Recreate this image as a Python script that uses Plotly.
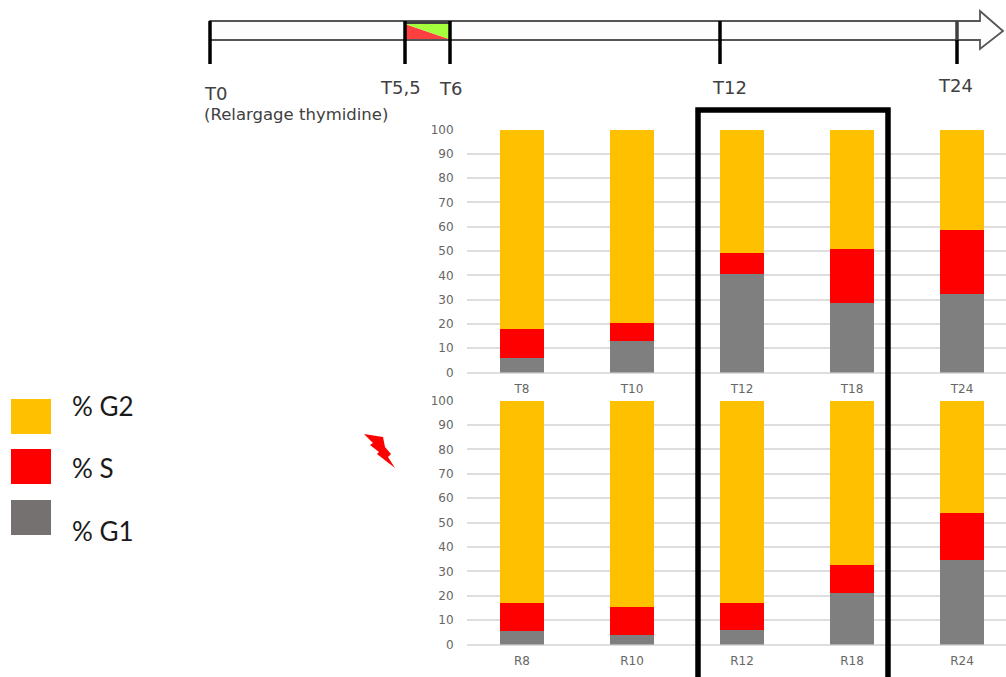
import plotly.graph_objects as go

W, H = 1006, 677

categories_top = ["T8", "T10", "T12", "T18", "T24"]
g1_top = [6, 13, 40.5, 28.5, 32.5]
s_top = [12, 7.5, 8.5, 22.5, 26]
g2_top = [82, 79.5, 51, 49, 41.5]

categories_bottom = ["R8", "R10", "R12", "R18", "R24"]
g1_bottom = [5.5, 4, 6, 21, 34.5]
s_bottom = [11.5, 11.5, 11, 11.5, 19.5]
g2_bottom = [83, 84.5, 83, 67.5, 46]

y_ticks = [0, 10, 20, 30, 40, 50, 60, 70, 80, 90, 100]

C_G2, C_S, C_G1 = "#FFC000", "#FF0000", "#7F7F7F"


def X(p):
    return p / W


def Y(p):
    return 1 - p / H


def path(points):
    return "M" + " L".join(f"{X(a):.5f},{Y(b):.5f}" for a, b in points) + " Z"


fig = go.Figure()
for cats, series, xa, ya in [
    (categories_top, (g1_top, s_top, g2_top), "x", "y"),
    (categories_bottom, (g1_bottom, s_bottom, g2_bottom), "x2", "y2"),
]:
    for vals, col, name in zip(series, (C_G1, C_S, C_G2), ("% G1", "% S", "% G2")):
        fig.add_bar(x=cats, y=vals, marker=dict(color=col, line_width=0), name=name,
                    xaxis=xa, yaxis=ya, showlegend=False)

shapes = []


def line(x0, y0, x1, y1, color="black", width=3.5):
    shapes.append(dict(type="line", xref="paper", yref="paper", x0=X(x0), y0=Y(y0), x1=X(x1), y1=Y(y1),
                       line=dict(color=color, width=width)))


def poly(points, fill, lc=None, lw=0):
    shapes.append(dict(type="path", xref="paper", yref="paper", path=path(points), fillcolor=fill,
                       line=dict(color=lc or fill, width=lw)))


def rect(x0, y0, x1, y1, fill, lc=None, lw=0):
    shapes.append(dict(type="rect", xref="paper", yref="paper", x0=X(x0), y0=Y(y0), x1=X(x1), y1=Y(y1),
                       fillcolor=fill, line=dict(color=lc or fill, width=lw)))


# timeline arrow
poly([(210, 21), (980, 21), (980, 11), (1003, 31), (980, 49), (980, 40), (210, 40)], "#FDFDFD", "#555555", 1.8)
poly([(405, 24), (449, 39), (405, 39)], "#FF4040")
poly([(405, 24), (449, 24), (449, 39)], "#A6FF3C")
line(405, 22.5, 450, 22.5, "#404040", 3)
line(210, 21, 210, 64)
line(405, 21, 405, 64)
line(450, 21, 450, 64)
line(720, 21, 720, 64)
line(957, 21, 957, 40, "#404040")
line(957, 40, 957, 64)

# highlight frame
shapes.append(dict(type="path", xref="paper", yref="paper",
                   path=f"M{X(698):.5f},{Y(677):.5f} L{X(698):.5f},{Y(110):.5f} L{X(888):.5f},{Y(110):.5f} L{X(888):.5f},{Y(677):.5f}",
                   line=dict(color="black", width=5.5)))

# legend swatches
rect(11, 399, 51, 434, C_G2)
rect(11, 449, 51, 484, C_S)
rect(11, 500, 51, 535, "#767171")

# lightning
poly([(364, 434), (383, 437), (385, 447), (391, 454), (388, 457), (395, 468), (377, 454), (379, 452), (370, 445), (373, 443)], "#FF0000")

TL = "DejaVu Sans"
anns = []


def text(x, y, s, size, color="#404040", family=TL, anchor="left"):
    anns.append(dict(xref="paper", yref="paper", x=X(x), y=Y(y), text=s, showarrow=False,
                     xanchor=anchor, yanchor="middle", borderpad=0, xshift=-1,
                     font=dict(family=family, size=size, color=color)))


text(204, 93, "T0", 18)
text(204, 114, "(Relargage thymidine)", 16.5)
text(380, 88, "T5,5", 18)
text(439, 89, "T6", 18)
text(712, 87, "T12", 18)
text(938, 85, "T24", 18)
LF = "Lato"
text(72, 406, "% G2", 26, "#1A1A1A", LF)
text(72, 468, "% S", 26, "#1A1A1A", LF)
text(72, 531, "% G1", 26, "#1A1A1A", LF)

xrange = [-0.5, -0.5 + (W - 467) / 110]
xdom = [X(467), 1]
axx = dict(domain=xdom, range=xrange, type="category", showgrid=False, showline=False, zeroline=False,
           ticks="outside", ticklen=5, tickcolor="rgba(0,0,0,0)",
           tickfont=dict(family=TL, size=12, color="#666666"))
axy = dict(range=[0, 100], tickvals=y_ticks, showgrid=True, gridcolor="#DEDEDE", gridwidth=1.5,
           zeroline=True, zerolinecolor="#DEDEDE", zerolinewidth=1.5, showline=False,
           ticks="outside", ticklen=10, tickcolor="rgba(0,0,0,0)",
           tickfont=dict(family=TL, size=12, color="#666666"))

fig.update_layout(
    width=W, height=H, margin=dict(l=0, r=0, t=0, b=0, autoexpand=False), autosize=False,
    paper_bgcolor="white", plot_bgcolor="white",
    barmode="stack", bargap=0.6,
    xaxis=dict(axx, anchor="y"),
    yaxis=dict(axy, domain=[Y(372.5), Y(129.5)], anchor="x"),
    xaxis2=dict(axx, anchor="y2"),
    yaxis2=dict(axy, domain=[Y(644.5), Y(400.5)], anchor="x2"),
    shapes=shapes, annotations=anns,
)

fig.write_html("out.html", config={"displayModeBar": False},
               post_script="document.body.style.margin='0';document.body.style.overflow='hidden';")
